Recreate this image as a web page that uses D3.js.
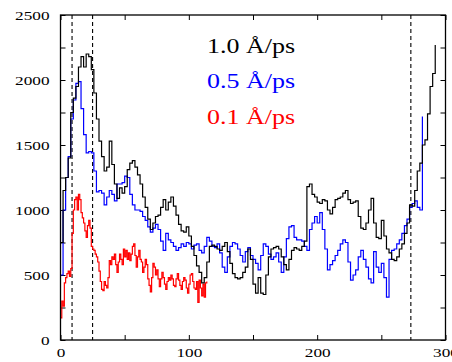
<!DOCTYPE html>
<html><head><meta charset="utf-8">
<script src="https://cdn.jsdelivr.net/npm/d3@7/dist/d3.min.js"></script>
<style>html,body{margin:0;padding:0;background:#fff;}svg{display:block;}</style>
</head><body>
<svg id="chart" width="452" height="362"></svg>
<script>
// ---- data ----
const xDomain = [0, 300];
const yDomain = [0, 2500];
const xTickValues = [0, 50, 100, 150, 200, 250, 300];
const xTickLabels = ["0", "", "100", "", "200", "", "300"];
const yTickValues = [0, 250, 500, 750, 1000, 1250, 1500, 1750, 2000, 2250, 2500];
const yTickLabels = ["0", "", "500", "", "1000", "", "1500", "", "2000", "", "2500"];
const dashedX = [9, 25, 273];
const seriesNames = ["1.0 Å/ps", "0.5 Å/ps", "0.1 Å/ps"];

// black: 1.0 Å/ps, sampled every 2 units from 0
const blackStep = 2;
const blackValues = [750,1150,1250,1400,1750,1860,1950,2100,2180,2100,2200,2180,2080,1900,1700,1530,
 1410,1300,1330,1530,1350,1200,1090,1170,1130,1180,1310,1360,1380,1330,1270,1200,1100,1020,930,850,
 900,950,960,1020,1080,1000,1060,1100,1030,960,890,840,830,870,800,720,650,570,520,440,480,600,
 720,730,720,700,690,720,750,680,590,510,480,470,480,520,560,700,620,430,360,480,360,350,500,
 640,700,710,720,700,640,580,540,620,690,710,700,690,720,760,1180,1200,1120,1100,1060,1050,1080,
 1070,1000,970,1020,1080,1090,1100,1130,1150,1080,1050,1060,1070,950,860,850,900,1000,1090,900,
 790,780,920,800,700,670,620,610,640,700,740,820,900,1040,1030,1150,1300,1360,1500,1540,1740,
 1950,2050,2270];
// blue: 0.5 Å/ps, sampled every 2 units from 0
const blueStep = 2;
const blueValues = [500,1000,1250,1410,1700,1846,1974,1987,1780,1580,1440,1450,1440,1300,1140,1150,
 1130,1040,1100,1150,1120,1070,1200,1200,1210,1260,1250,1120,1040,1000,1000,990,950,920,870,830,
 860,890,850,760,690,820,770,750,720,690,710,740,720,750,740,700,730,740,690,670,720,790,760,720,
 710,740,670,560,520,640,720,750,740,700,650,600,680,710,650,620,590,540,650,740,720,660,620,640,
 670,600,520,640,780,870,880,790,770,770,760,720,690,850,900,950,900,980,850,700,540,580,610,650,
 690,740,770,750,600,460,500,540,640,690,620,560,470,440,680,560,520,590,480,330,620,690,700,740,
 770,820,880,930,1020,1050,1070,1020,1000,1720];
// red: 0.1 Å/ps, sampled every 1 unit from 0
const redStep = 1;
const redValues = [170,300,260,440,480,510,530,490,550,820,1000,1080,1100,1000,1120,1080,980,940,900,
 840,790,880,920,860,720,700,690,660,640,600,530,450,390,380,450,420,400,480,610,580,640,620,660,
 580,520,600,660,620,580,700,640,690,620,670,610,660,720,740,650,560,640,690,620,600,520,560,620,
 580,470,420,370,480,590,560,500,540,470,410,470,520,480,430,390,450,480,460,500,470,420,410,470,
 510,460,420,390,450,480,460,400,360,430,500,510,450,400,390,450,290,460,400,340,430,330,440,450];

// ---- drawing ----
const svg = d3.select("#chart");
const L = 60.5, R = 445.5, T = 15, B = 340;
const x = d3.scaleLinear().domain(xDomain).range([L, R]);
const y = d3.scaleLinear().domain(yDomain).range([B, T]);
const FONT = "'Liberation Serif','Times New Roman',serif";
const CW = 8.6; // stretched glyph width for tick labels

function styleAxis(g) {
  g.select(".domain").remove();
  g.selectAll(".tick line").attr("stroke", "#000").attr("stroke-width", 1);
  g.selectAll("text").attr("font-family", FONT).attr("font-size", 13).attr("fill", "#000")
    .each(function() {
      const t = d3.select(this).text();
      if (t.length) d3.select(this).attr("textLength", CW * t.length).attr("lengthAdjust", "spacingAndGlyphs");
    });
}

// bottom
svg.append("g").attr("transform", `translate(0,${B})`)
  .call(d3.axisBottom(x).tickValues(xTickValues).tickSizeInner(-5).tickSizeOuter(0).tickPadding(8)
    .tickFormat((d, i) => xTickLabels[i]))
  .call(styleAxis);
// top
svg.append("g").attr("transform", `translate(0,${T})`)
  .call(d3.axisTop(x).tickValues(xTickValues).tickSizeInner(-5).tickSizeOuter(0).tickFormat(""))
  .call(styleAxis);
// left
svg.append("g").attr("transform", `translate(${L},0)`)
  .call(d3.axisLeft(y).tickValues(yTickValues).tickSizeInner(-5).tickSizeOuter(0).tickPadding(11)
    .tickFormat((d, i) => yTickLabels[i]))
  .call(styleAxis);
// right
svg.append("g").attr("transform", `translate(${R},0)`)
  .call(d3.axisRight(y).tickValues(yTickValues).tickSizeInner(-5).tickSizeOuter(0).tickFormat(""))
  .call(styleAxis);

// dashed verticals
svg.append("g").selectAll("line").data(dashedX).join("line")
  .attr("x1", d => x(d)).attr("x2", d => x(d)).attr("y1", T).attr("y2", B)
  .attr("stroke", "#000").attr("stroke-width", 1.1).attr("stroke-dasharray", "4,3");

const series = [
  {name: seriesNames[2], color: "#ff0000", step: redStep, values: redValues},
  {name: seriesNames[1], color: "#0000ff", step: blueStep, values: blueValues},
  {name: seriesNames[0], color: "#000000", step: blackStep, values: blackValues},
];
const line = d3.line().curve(d3.curveStepAfter).x(d => x(d[0])).y(d => y(d[1]));
svg.append("g").selectAll("path").data(series).join("path")
  .attr("d", s => line(s.values.map((v, i) => [i * s.step, v])))
  .attr("fill", "none").attr("stroke", s => s.color).attr("stroke-width", 1.2)
  .attr("stroke-linejoin", "miter");

// frame
svg.append("rect").attr("x", L).attr("y", T).attr("width", R - L).attr("height", B - T)
  .attr("fill", "none").attr("stroke", "#000").attr("stroke-width", 1.3);

// legend
const legendColors = ["#000000", "#0000ff", "#ff0000"];
const legendY = [53, 88, 124];
svg.append("g").selectAll("text").data(seriesNames).join("text")
  .attr("x", 207).attr("y", (d, i) => legendY[i])
  .attr("font-family", FONT).attr("font-size", 20)
  .attr("fill", (d, i) => legendColors[i])
  .attr("textLength", 88).attr("lengthAdjust", "spacingAndGlyphs")
  .text(d => d);
</script>
</body></html>
